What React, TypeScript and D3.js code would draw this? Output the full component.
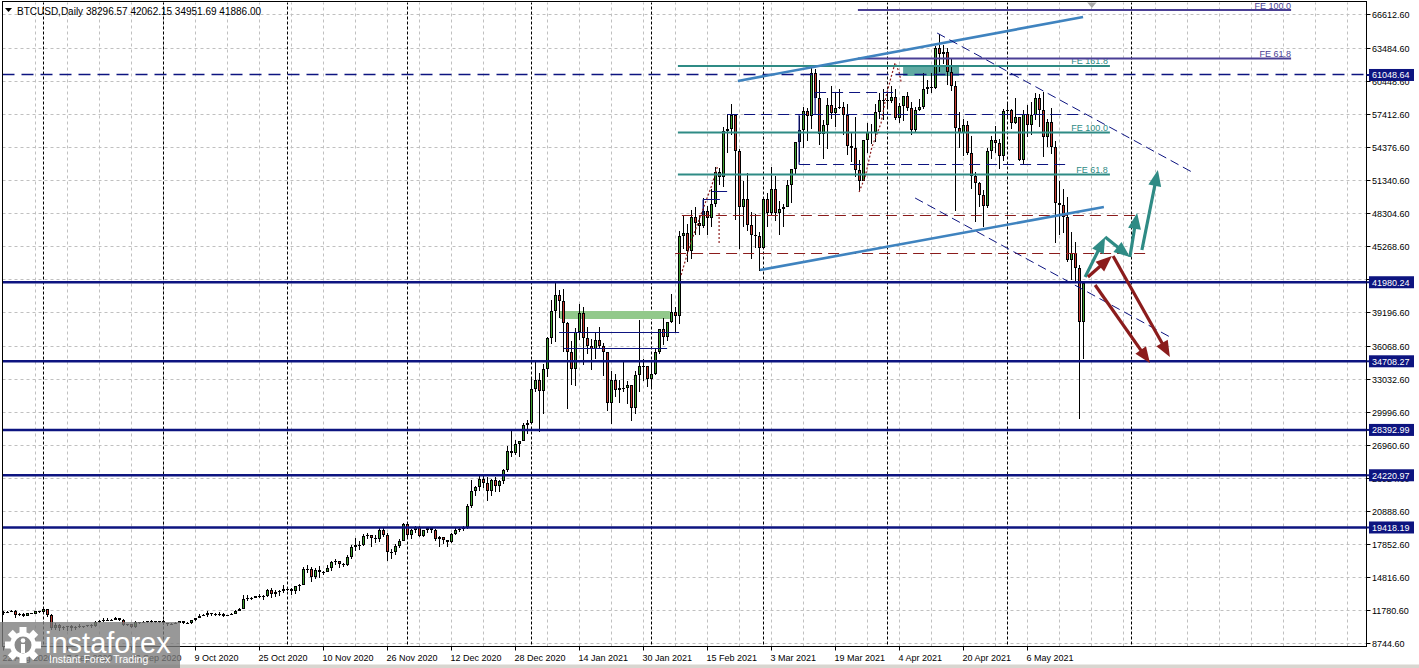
import React from "react";
import * as d3 from "d3";

// ---------- DATA ----------
const xLabels = ["22 Aug 2020","7 Sep 2020","23 Sep 2020","9 Oct 2020","25 Oct 2020","10 Nov 2020","26 Nov 2020","12 Dec 2020","28 Dec 2020","14 Jan 2021","30 Jan 2021","15 Feb 2021","3 Mar 2021","19 Mar 2021","4 Apr 2021","20 Apr 2021","6 May 2021"];
const xLabelBars = [0,16,32,48,64,80,96,112,128,144,160,176,192,208,224,240,256];
const monthStartBars = [10,40,71,101,132,162,190,221,251,282];
const yTicks = [66612.6,63484.6,60448.6,57412.6,54376.6,51340.6,48304.6,45268.6,42232.6,39196.6,36068.6,33032.6,29996.6,26960.6,23924.6,20888.6,17852.6,14816.6,11780.6,8744.6];

const opens = [
11590,11680,11650,11760,11360,11470,11320,11530,11470,11700,
11650,11920,11390,10170,10470,10170,10250,10370,10130,10230,10340,10390,10440,10330,10680,10790,10950,10940,10930,11080,10920,10420,10530,10240,10740,10690,10730,10770,10700,10840,
10780,10620,10570,10550,10670,10790,10600,10670,10920,11060,11300,11380,11540,11430,11430,11500,11320,11370,11500,11750,11920,12820,12970,12930,13120,13030,13070,13650,13280,13460,13560,
13800,13760,13550,14030,14150,15590,15590,14830,15480,15330,15300,15700,16280,16320,16070,15960,16720,17660,17800,17820,18680,18720,18420,18370,19160,18720,17150,17140,17720,18180,
19700,18770,19210,19440,18650,19150,19360,19170,18320,18550,18250,18040,18800,19170,19270,19440,21350,22800,23130,23860,23480,22740,23820,23240,23730,24710,26490,26280,27080,27380,28880,
29000,32190,32950,32020,34030,36820,39370,40800,40250,38240,35540,34010,37390,39150,36830,36070,35820,36630,36070,35540,30830,32990,32100,32280,32270,32530,30430,33470,34320,34270,
33110,33520,35520,37660,36940,38290,39260,38900,46200,46480,44850,47970,47410,47190,48580,47930,49200,52150,51680,55890,56100,57410,54090,48890,49680,47220,46340,46190,
45140,49630,48380,50540,48370,48760,48880,50970,52380,54880,55960,57750,57230,61190,58970,55640,56460,58330,57570,58010,58100,57350,54530,54340,52300,51290,55030,55830,55790,57630,58730,
58730,58690,59060,57080,58200,59110,57970,56010,57810,58080,59770,59960,59830,63500,62960,63160,61330,60050,56210,55720,56470,53910,51760,51090,50050,49000,54020,55030,54830,53560,
57750,57830,56630,57210,53240,57470,56430,57380,58930,57800,55300,56700,54400,49300,49100,48000,44000,44700,43300,38296.57
];
const highs = [
11690,11720,11830,11790,11540,11590,11550,11580,11700,11780,
12080,11950,11460,10600,10570,10350,10400,10440,10350,10500,10400,10480,10580,10800,10940,11100,11050,11040,11180,11100,10990,10580,10550,10780,10760,10780,10800,10950,10860,10850,
10930,10660,10600,10700,10800,10800,10690,10950,11110,11480,11440,11720,11560,11550,11620,11540,11400,11520,11820,12030,13220,13190,13030,13160,13340,13240,13790,13860,13650,13680,14100,
13900,13830,14070,14250,15750,15960,15770,15650,15830,15460,15950,16330,16480,16320,16160,16860,17800,18480,18140,18800,18950,18760,18770,19420,19490,18900,17460,17880,18330,19850,
19920,19310,19570,19520,19180,19420,19400,19300,18640,18560,18280,18940,19410,19350,19570,21560,23770,23280,24170,24300,24100,23840,24100,23780,24770,26870,28420,27500,27390,28990,29300,
33300,34800,33600,34450,36900,40360,41950,41300,41400,38300,36600,37800,40000,39700,37900,36800,37400,37850,36400,35600,33800,33500,32950,34800,32900,32560,33800,38500,34900,34300,
34700,35900,37700,38700,38300,40900,39700,46700,48200,47300,48600,48900,48200,49700,49000,50600,52600,52500,56300,57500,58350,57500,54200,51300,52000,48400,48300,46600,
49800,50200,52600,51800,49500,49200,51400,52400,54900,57300,58100,58000,61700,61600,60600,56900,58900,60000,59500,59800,58600,58400,55800,57200,53200,55100,56600,56500,58400,59400,59800,
59500,60000,59800,58500,59100,59500,58600,58100,58800,61200,60600,61200,63700,64850,63800,63500,62500,60500,57600,57000,56800,55400,52100,51200,50500,54300,55400,56400,55200,57900,
58400,57900,58900,57200,57800,58300,58600,59400,59300,59500,57000,58000,55000,51300,50600,49800,46600,45700,43600,42062.15
];
const lows = [
11380,11520,11600,11120,11260,11150,11280,11420,11460,11560,
11520,11190,10000,9960,9880,10000,9880,9850,10010,10200,10190,10300,10200,10270,10630,10680,10780,10820,10900,10790,10350,10360,10140,10200,10580,10650,10630,10640,10650,10660,
10460,10380,10500,10520,10620,10530,10560,10530,10830,11050,11270,11200,11280,11300,11270,11210,11300,11340,11420,11690,11900,12700,12730,12890,12920,12780,13060,12920,12990,13130,13430,
13620,13220,13290,13540,14090,15190,14360,14720,14810,15080,15280,15450,15960,15730,15800,15870,16550,17210,17340,17760,18350,17650,18000,18040,18530,16330,16510,16880,17540,18180,
18330,18330,18940,18570,18520,18870,18930,18210,17650,17910,17580,18020,18720,19000,19050,19300,21230,22350,22770,23090,21900,22360,22720,22700,23450,24510,25860,26100,25880,27340,27990,
28950,31900,28200,29900,33300,36300,36500,38700,35600,30300,32500,32400,36700,34400,35400,33900,34900,35900,33400,30100,28900,31400,30900,31900,30800,29250,29900,31900,32900,32300,
32300,33450,35400,36200,36600,38200,37400,38100,45000,43800,44100,46300,46300,47000,46300,47100,48900,50900,50700,53900,55500,47700,45000,47100,46700,44100,45100,43000,
45000,47100,48100,47600,46300,47100,48900,49300,51900,53000,54300,55000,56100,58900,54600,53300,54200,57000,56300,57900,55500,53700,53000,51700,50400,51300,53900,54700,54900,57000,56900,
57900,58500,56900,56600,56800,57700,55500,55800,57700,57900,59300,59400,59800,61300,62100,60100,59600,48500,54300,53600,53700,50600,47500,48900,47100,48800,53300,53900,52400,53100,
57000,56100,56500,53100,52900,55300,55500,56900,56300,53500,54400,53800,45600,46300,46500,43800,42200,42100,29400,34951.69
];
const closes = [
11680,11650,11760,11360,11470,11320,11530,11470,11700,11650,
11920,11390,10170,10470,10170,10250,10370,10130,10230,10340,10390,10440,10330,10680,10790,10950,10940,10930,11080,10920,10420,10530,10240,10740,10690,10730,10770,10700,10840,10780,
10620,10570,10550,10670,10790,10600,10670,10920,11060,11300,11380,11540,11430,11430,11500,11320,11370,11500,11750,11920,12820,12970,12930,13120,13030,13070,13650,13280,13460,13560,13800,
13760,13550,14030,14150,15590,15590,14830,15480,15330,15300,15700,16280,16320,16070,15960,16720,17660,17800,17820,18680,18720,18420,18370,19160,18720,17150,17140,17720,18180,19700,
18770,19210,19440,18650,19150,19360,19170,18320,18550,18250,18040,18800,19170,19270,19440,21350,22800,23130,23860,23480,22740,23820,23240,23730,24710,26490,26280,27080,27380,28880,28990,
32190,32950,32020,34030,36820,39370,40800,40250,38240,35540,34010,37390,39150,36830,36070,35820,36630,36070,35540,30830,32990,32100,32280,32270,32530,30430,33470,34320,34270,33110,
33520,35520,37660,36940,38290,39260,38900,46200,46480,44850,47970,47410,47190,48580,47930,49200,52150,51680,55890,56100,57410,54090,48890,49680,47220,46340,46190,45140,
49630,48380,50540,48370,48760,48880,50970,52380,54880,55960,57750,57230,61190,58970,55640,56460,58330,57570,58010,58100,57350,54530,54340,52300,51290,55030,55830,55790,57630,58730,58730,
58690,59060,57080,58200,59110,57970,56010,57810,58080,59770,59960,59830,63500,62960,63160,61330,60050,56210,55720,56470,53910,51760,51090,50050,49000,54020,55030,54830,53560,57750,
57830,56630,57210,53240,57470,56430,57380,58930,57800,55300,56700,54400,49300,49100,48000,44000,44700,43300,38296.57,41886.00
];

// horizontal support / resistance levels
const solidLevels = [41980.24, 34708.27, 28392.99, 24220.97, 19418.19];
const dashedLevels = [61048.64];

// Fibonacci expansion lines (teal)
const tealFeLabels = ["FE 161.8", "FE 100.0", "FE 61.8"];
const tealFePrices = [61874.6, 55756.6, 51892.6];
const tealFeSpan = [168.6, 276.6];
// Fibonacci expansion lines (purple)
const purpleFeLabels = ["FE 100.0", "FE 61.8"];
const purpleFePrices = [67026.6, 62564.6];
const purpleFeSpan = [213.6, 321.9];

// zones [bar0, bar1, priceTop, priceBottom]
const tealZone = [224.9, 238.9, 61874.6, 60954.6];
const greenZone = [139.1, 166.6, 39334.6, 38598.6];

// thin navy solid segments [bar0, price0, bar1, price1]
const navySolid = [
  [138.9, 37402.6, 168.9, 37402.6],
  [140.1, 35930.6, 165.9, 35930.6],
  [177.1, 50374.6, 180.9, 50374.6],
  [174.9, 49638.6, 179.1, 49638.6],
  [174.9, 49638.6, 174.9, 48166.6],
  [198.9, 57458.6, 198.9, 52858.6],
  [202.9, 59482.6, 202.9, 57458.6],
];
const navyDashed = [
  [180.9, 57458.6, 270.4, 57458.6],
  [202.9, 59482.6, 222.4, 59482.6],
  [198.9, 52858.6, 266.1, 52858.6],
];
const redDashed = [
  [169.6, 48166.6, 282.9, 48166.6],
  [167.9, 44670.6, 285.9, 44670.6],
];
// trend channel lines
const blueTrend = [
  [183.6, 60494.6, 269.9, 66382.6],
  [189.1, 43106.6, 275.1, 48902.6],
];
const navyDiag = [
  [233.4, 64910.6, 297.1, 52122.6],
  [227.9, 49730.6, 292.1, 36850.6],
];
// dotted zigzag
const zigA = [[169.4, 42646.6],[171.6, 45406.6],[174.6, 48442.6],[177.1, 50926.6],[178.6, 52766.6]];
const zigAv = [[178.9, 48350.6],[178.9, 45590.6]];
const zigB = [[213.9, 50282.6],[215.4, 51662.6],[217.1, 54422.6],[219.4, 56630.6],[220.6, 59022.6],[221.9, 60862.6],[222.9, 62150.6],[223.9, 61322.6],[224.4, 60402.6]];
// scenario arrows
const tealArrows = [
  [270.4, 42462.6, 275.4, 46142.6],
  [275.4, 46142.6, 281.6, 44302.6],
  [281.6, 44302.6, 283.4, 48350.6],
  [284.6, 44946.6, 288.6, 52306.6],
];
const redArrows = [
  [271.1, 42462.6, 277.1, 44394.6],
  [277.4, 44394.6, 291.6, 35102.6],
  [272.9, 41726.6, 286.6, 34550.6],
];
const markerBar = 272.1;

// ---------- STYLE ----------
const FONT = "'Liberation Sans', Arial, sans-serif";
const NAVY = "#0d1480";
const TEAL = "#2f8b85";
const PURPLE = "#4a3f95";
const STEEL = "#3f83bf";
const MAROON = "#8b1c1c";
const GREEN = "#3ea02f";
const RED = "#c63a30";

const W = 1419, H = 668;
const PL = 2.5, PR = 1366.5, PT = 1.5, PB = 646.5;

function Arrow({ x1, y1, x2, y2, color }: any) {
  const dx = x2 - x1, dy = y2 - y1;
  const L = Math.hypot(dx, dy);
  const ux = dx / L, uy = dy / L;
  const hl = 16, hw = 6.5;
  const bx = x2 - ux * hl, by = y2 - uy * hl;
  return (
    <g>
      <line x1={x1} y1={y1} x2={bx + ux * 3} y2={by + uy * 3} stroke={color} strokeWidth={3.2} />
      <polygon points={`${x2},${y2} ${bx - uy * hw},${by + ux * hw} ${bx + uy * hw},${by - ux * hw}`} fill={color} />
    </g>
  );
}

export default function App() {
  const x = d3.scaleLinear().domain([0, 340.75]).range([3.5, 1366.5]);
  const y = d3.scaleLinear().domain([8744.6, 66612.6]).range([643.5, 14.5]);
  const c = (v: number) => Math.round(v - 0.5) + 0.5;
  const line = d3.line<number[]>().x((d) => x(d[0])).y((d) => y(d[1]));

  const vGrid: number[] = [];
  for (let b = 8; x(b) < PR - 2; b += 8) vGrid.push(b);

  return (
    <svg width={W} height={H} style={{ position: "absolute", left: 0, top: 0, background: "#fff" }} fontFamily={FONT}>
      <defs>
        <clipPath id="plot">
          <rect x={PL} y={PT + 1} width={PR - PL} height={PB - PT - 1} />
        </clipPath>
      </defs>
      <rect x={0} y={0} width={W} height={H} fill="#fff" />

      <g clipPath="url(#plot)">
        {/* grid */}
        {yTicks.map((t) => (
          <line key={"hg" + t} x1={PL} x2={PR} y1={c(y(t))} y2={c(y(t))} stroke="#c0c0c0" strokeDasharray="3,3" />
        ))}
        {vGrid.map((b) => (
          <line key={"vg" + b} x1={c(x(b))} x2={c(x(b))} y1={PT} y2={PB} stroke="#c0c0c0" strokeDasharray="3,3" />
        ))}
        {monthStartBars.map((b) => (
          <line key={"ms" + b} x1={c(x(b))} x2={c(x(b))} y1={PT} y2={PB} stroke="#000" strokeDasharray="3,2" />
        ))}

        {/* zones */}
        <rect x={x(tealZone[0])} width={x(tealZone[1]) - x(tealZone[0])} y={y(tealZone[2])} height={y(tealZone[3]) - y(tealZone[2])} fill="#5fa9a2" />
        <rect x={x(greenZone[0])} width={x(greenZone[1]) - x(greenZone[0])} y={y(greenZone[2])} height={y(greenZone[3]) - y(greenZone[2])} fill="#92c98b" />

        {/* candles */}
        {closes.map((cl, i) => {
          const o = opens[i], h = highs[i], l = lows[i];
          const cx = c(x(i));
          const top = Math.round(y(Math.max(o, cl)));
          const bot = Math.round(y(Math.min(o, cl)));
          const up = cl >= o;
          return (
            <g key={"k" + i}>
              <line x1={cx} x2={cx} y1={Math.round(y(h))} y2={Math.round(y(l))} stroke="#000" strokeWidth={1} />
              {bot - top >= 2 ? (
                <rect x={cx - 1} y={top + 0.5} width={2} height={bot - top - 1} fill={up ? GREEN : RED} stroke="#000" strokeWidth={1} />
              ) : (
                <line x1={cx - 1.5} x2={cx + 1.5} y1={top + 0.5} y2={top + 0.5} stroke="#000" />
              )}
            </g>
          );
        })}

        {/* navy step lines */}
        {navySolid.map((s, i) => (
          <line key={"ns" + i} x1={x(s[0])} y1={c(y(s[1]))} x2={x(s[2])} y2={c(y(s[3]))} stroke={NAVY} strokeWidth={1.2} />
        ))}
        {navyDashed.map((s, i) => (
          <line key={"nd" + i} x1={x(s[0])} y1={c(y(s[1]))} x2={x(s[2])} y2={c(y(s[3]))} stroke={NAVY} strokeWidth={1.2} strokeDasharray="11,6" />
        ))}
        {redDashed.map((s, i) => (
          <line key={"rd" + i} x1={x(s[0])} y1={c(y(s[1]))} x2={x(s[2])} y2={c(y(s[3]))} stroke={MAROON} strokeWidth={1.2} strokeDasharray="11,6" />
        ))}
        {/* zigzag dotted */}
        <path d={line(zigA) || ""} fill="none" stroke={MAROON} strokeWidth={1.2} strokeDasharray="2,2" />
        <path d={line(zigAv) || ""} fill="none" stroke={MAROON} strokeWidth={1.2} strokeDasharray="2,2" />
        <path d={line(zigB) || ""} fill="none" stroke={MAROON} strokeWidth={1.2} strokeDasharray="2,2" />

        {/* FE teal */}
        {tealFePrices.map((p, i) => (
          <g key={"ft" + i}>
            <line x1={x(tealFeSpan[0])} x2={x(tealFeSpan[1])} y1={y(p)} y2={y(p)} stroke={TEAL} strokeWidth={2.2} />
            <text x={x(tealFeSpan[1]) - 2} y={y(p) - 2} textAnchor="end" fontSize={9} fill={TEAL}>{tealFeLabels[i]}</text>
          </g>
        ))}
        {/* FE purple */}
        {purpleFePrices.map((p, i) => (
          <g key={"fp" + i}>
            <line x1={x(purpleFeSpan[0])} x2={x(purpleFeSpan[1])} y1={y(p)} y2={y(p)} stroke={PURPLE} strokeWidth={2.2} />
            <text x={x(purpleFeSpan[1])} y={y(p) - 1.5} textAnchor="end" fontSize={9} fill={PURPLE}>{purpleFeLabels[i]}</text>
          </g>
        ))}

        {/* levels */}
        {solidLevels.map((p) => (
          <line key={"sl" + p} x1={PL} x2={PR} y1={y(p)} y2={y(p)} stroke={NAVY} strokeWidth={2.4} />
        ))}
        {dashedLevels.map((p) => (
          <line key={"dl" + p} x1={PL} x2={PR} y1={c(y(p))} y2={c(y(p))} stroke={NAVY} strokeWidth={1.4} strokeDasharray="12,7" />
        ))}

        {/* trend lines */}
        {blueTrend.map((s, i) => (
          <line key={"bt" + i} x1={x(s[0])} y1={y(s[1])} x2={x(s[2])} y2={y(s[3])} stroke={STEEL} strokeWidth={2.6} />
        ))}
        {navyDiag.map((s, i) => (
          <line key={"dg" + i} x1={x(s[0])} y1={y(s[1])} x2={x(s[2])} y2={y(s[3])} stroke={NAVY} strokeWidth={1} strokeDasharray="9,5" />
        ))}

        {/* arrows */}
        {tealArrows.map((s, i) => (
          <Arrow key={"ta" + i} x1={x(s[0])} y1={y(s[1])} x2={x(s[2])} y2={y(s[3])} color={TEAL} />
        ))}
        {redArrows.map((s, i) => (
          <Arrow key={"ra" + i} x1={x(s[0])} y1={y(s[1])} x2={x(s[2])} y2={y(s[3])} color={MAROON} />
        ))}

        {/* marker */}
        <polygon points={`${x(markerBar) - 5},2 ${x(markerBar) + 5},2 ${x(markerBar)},8`} fill="#a8a8a8" />
      </g>

      {/* frame */}
      <rect x={PL} y={PT} width={PR - PL} height={PB - PT} fill="none" stroke="#000" strokeWidth={1} />

      {/* header */}
      <polygon points="5,8 12,8 8.5,12" fill="#000" />
      <text x={17} y={15} fontSize={10} fill="#000">BTCUSD,Daily  38296.57 42062.15 34951.69 41886.00</text>

      {/* y axis */}
      {yTicks.map((t) => (
        <g key={"yt" + t}>
          <line x1={PR} x2={PR + 4} y1={c(y(t))} y2={c(y(t))} stroke="#000" />
          <text x={1372} y={y(t) + 3.5} fontSize={9} fill="#000">{t.toFixed(2)}</text>
        </g>
      ))}
      {[...solidLevels, ...dashedLevels].map((p) => (
        <g key={"lb" + p}>
          <line x1={PR} x2={1370} y1={y(p)} y2={y(p)} stroke={NAVY} strokeWidth={2} />
          <rect x={1369} y={y(p) - 6} width={45} height={12} fill={NAVY} />
          <text x={1372} y={y(p) + 3.5} fontSize={9} fill="#fff">{p.toFixed(2)}</text>
        </g>
      ))}

      {/* x axis */}
      {xLabelBars.map((b, i) => (
        <g key={"xt" + b}>
          <line x1={c(x(b))} x2={c(x(b))} y1={PB} y2={PB + 4} stroke="#000" />
          <text x={x(b) - 1} y={661} fontSize={9} fill="#000">{xLabels[i]}</text>
        </g>
      ))}
      <rect x={0} y={664.5} width={W} height={4} fill="#d8d6d0" />

      {/* watermark */}
      <g>
        <rect x={0} y={622} width={180} height={46} fill="#7b7b7b" opacity={0.78} />
        <g transform="translate(23,645)" fill="#fff">
          {d3.range(8).map((k) => (
            <rect key={"gt" + k} x={-3.5} y={-18} width={7} height={8} transform={`rotate(${k * 45})`} />
          ))}
          <circle r={13} />
          <circle r={8.5} fill="#8a8a8a" />
          <circle cx={0} cy={-4.5} r={2.3} />
          <rect x={-2} y={-1} width={4} height={9} />
        </g>
        <text x={45} y={653} fontSize={29} fill="#fff" fontFamily={FONT}>instaforex</text>
        <text x={49} y={663} fontSize={10.5} fill="#fff" fontFamily={FONT}>Instant Forex Trading</text>
      </g>
    </svg>
  );
}
